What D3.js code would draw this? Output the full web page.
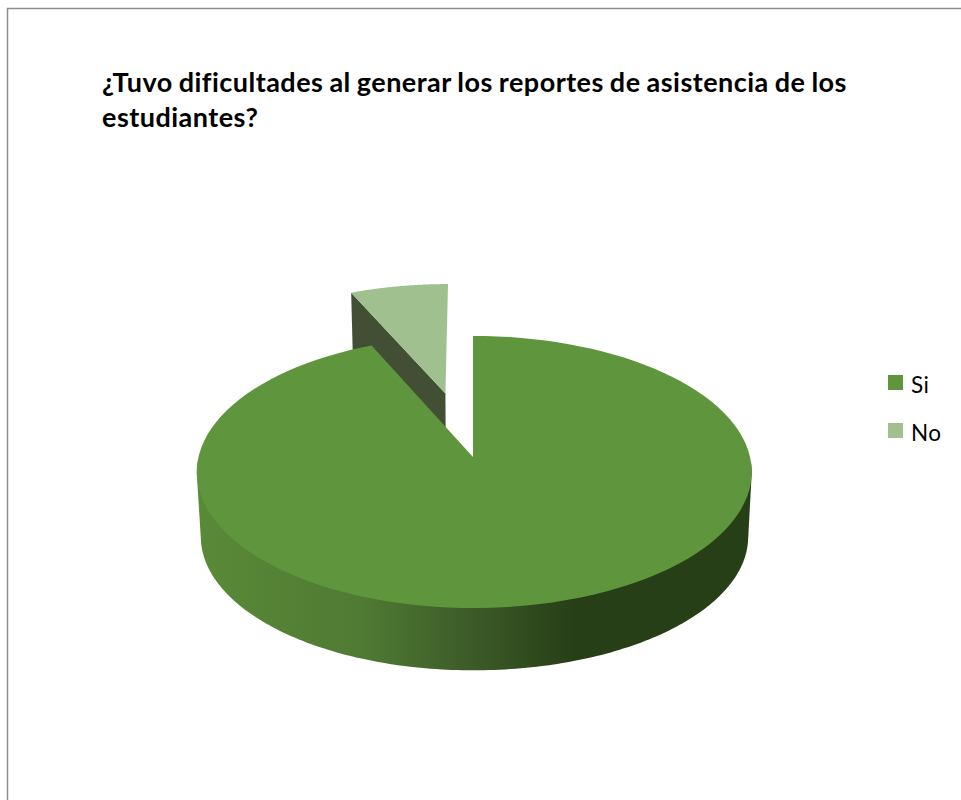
<!DOCTYPE html>
<html>
<head>
<meta charset="utf-8">
<script src="https://cdn.jsdelivr.net/npm/d3@7"></script>
<style>
  html, body { margin: 0; padding: 0; background: #fff; }
  svg { display: block; }
</style>
</head>
<body>
<svg id="chart"></svg>
<script>
const titleLines = [
  "¿Tuvo dificultades al generar los reportes de asistencia de los",
  "estudiantes?",
];
const categories = ["Si", "No"];
const values = [14, 1];
const colors = ["#5f963d", "#a0c18f"];

const width = 961;
const height = 800;

const svg = d3.select("#chart").attr("width", width).attr("height", height);

// Chart frame
svg
  .append("rect")
  .attr("x", 7.5)
  .attr("y", 8.5)
  .attr("width", 960)
  .attr("height", 800)
  .style("fill", "#fff")
  .style("stroke", "#8e8e8e")
  .style("stroke-width", 1.5);

// Title
svg
  .selectAll("text.title")
  .data(titleLines)
  .enter()
  .append("text")
  .attr("class", "title")
  .attr("x", 102)
  .attr("y", (d, i) => 92 + i * 35)
  .style("font-family", "Lato")
  .style("font-weight", "bold")
  .style("font-size", "27px")
  .style("letter-spacing", "0.47px")
  .style("word-spacing", "-1px")
  .style("fill", "#000")
  .text((d) => d);

// Perspective of the pie plane, the left and right halves differ a little
const cx = 473;
const perspective = 0.11;
const topPlane = { cy: 457, rxLeft: 274.5, rxRight: 277, ry: 134.4 };
const bottomPlane = { cy: 522, rxLeft: 270.5, rxRight: 273.5, ry: 132 };
const explode = 0.51;

function project(plane, u, v) {
  const w = 1 - perspective * v;
  const rx = u < 0 ? plane.rxLeft : plane.rxRight;
  return [cx + (rx * u) / w, plane.cy + (plane.ry * v) / w];
}

// a = angle clockwise from 12 o'clock, offset = slice explosion along its middle
function rimPoint(plane, a, r, mid, offset) {
  const u = r * Math.sin(a) + offset * Math.sin(mid);
  const v = -r * Math.cos(a) - offset * Math.cos(mid);
  return project(plane, u, v);
}

const pie = d3.pie().sort(null).startAngle(0).endAngle(2 * Math.PI);
const slices = pie(values);
const line = d3.line();

function faceSteps(s) {
  return d3.range(0, 121).map((i) => s.startAngle + ((s.endAngle - s.startAngle) * i) / 120);
}

const si = slices[0];
const no = slices[1];
const noMid = (no.startAngle + no.endAngle) / 2;

// Gradient along the side wall
const defs = svg.append("defs");
const gradient = defs
  .append("linearGradient")
  .attr("id", "wall")
  .attr("gradientUnits", "userSpaceOnUse")
  .attr("x1", 197)
  .attr("x2", 752)
  .attr("y1", 0)
  .attr("y2", 0);
gradient.append("stop").attr("offset", "0%").attr("stop-color", "#5a8a38");
gradient.append("stop").attr("offset", "30%").attr("stop-color", "#4f7a33");
gradient.append("stop").attr("offset", "50%").attr("stop-color", "#3c5a28");
gradient.append("stop").attr("offset", "68%").attr("stop-color", "#273f17");
gradient.append("stop").attr("offset", "100%").attr("stop-color", "#273f17");

// No: cut wall facing the viewer
const noWall = [
  rimPoint(topPlane, no.startAngle, 1, noMid, explode),
  rimPoint(topPlane, no.startAngle, 0, noMid, explode),
  rimPoint(bottomPlane, no.startAngle, 0, noMid, explode),
  rimPoint(bottomPlane, no.startAngle, 1, noMid, explode),
];
svg
  .append("path")
  .attr("d", line(noWall) + "Z")
  .style("fill", "#434f35");

// No: top face
const noFace = [rimPoint(topPlane, 0, 0, noMid, explode)].concat(
  faceSteps(no).map((a) => rimPoint(topPlane, a, 1, noMid, explode))
);
svg
  .append("path")
  .attr("d", line(noFace) + "Z")
  .style("fill", colors[1]);

// Si: outer wall, hull of the front half of both rims gives the straight sides
const frontAngles = d3.range(92, 269, 1).map((d) => (d * Math.PI) / 180);
const siWall = d3.polygonHull(
  frontAngles
    .map((a) => rimPoint(topPlane, a, 1, 0, 0))
    .concat(frontAngles.map((a) => rimPoint(bottomPlane, a, 1, 0, 0)))
);
svg
  .append("path")
  .attr("d", line(siWall) + "Z")
  .style("fill", "url(#wall)");

// Si: top face
const siFace = [rimPoint(topPlane, 0, 0, 0, 0)].concat(
  faceSteps(si).map((a) => rimPoint(topPlane, a, 1, 0, 0))
);
svg
  .append("path")
  .attr("d", line(siFace) + "Z")
  .style("fill", colors[0]);

// Legend
const legendY = d3.scalePoint().domain(categories).range([375, 423]);

const legend = svg
  .selectAll("g.legend")
  .data(categories)
  .enter()
  .append("g")
  .attr("class", "legend")
  .attr("transform", (d) => `translate(888, ${legendY(d)})`);

legend
  .append("rect")
  .attr("width", 15)
  .attr("height", 15)
  .style("fill", (d, i) => colors[i]);

legend
  .append("text")
  .attr("x", 23)
  .attr("y", 17.5)
  .style("font-family", "Lato")
  .style("font-size", "22.5px")
  .style("letter-spacing", "0.5px")
  .style("fill", "#000")
  .text((d) => d);
</script>
</body>
</html>
